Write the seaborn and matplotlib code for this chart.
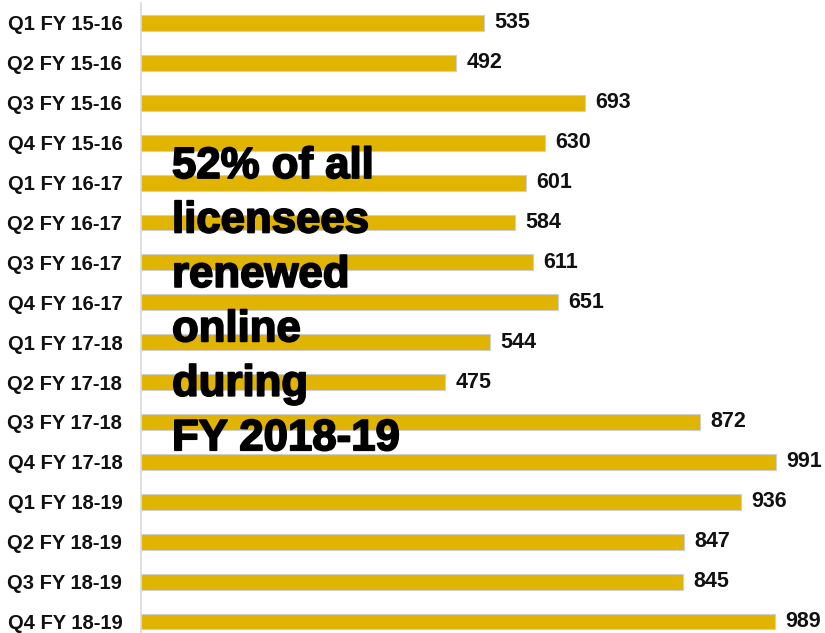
import matplotlib
matplotlib.use("Agg")
import matplotlib.pyplot as plt
import matplotlib.patheffects as pe
from matplotlib import font_manager
import seaborn as sns
import pandas as pd

quarters = ["Q1 FY 15-16", "Q2 FY 15-16", "Q3 FY 15-16", "Q4 FY 15-16",
            "Q1 FY 16-17", "Q2 FY 16-17", "Q3 FY 16-17", "Q4 FY 16-17",
            "Q1 FY 17-18", "Q2 FY 17-18", "Q3 FY 17-18", "Q4 FY 17-18",
            "Q1 FY 18-19", "Q2 FY 18-19", "Q3 FY 18-19", "Q4 FY 18-19"]
renewals = [535, 492, 693, 630, 601, 584, 611, 651,
            544, 475, 872, 991, 936, 847, 845, 989]
callout = "52% of all\nlicensees\nrenewed\nonline\nduring\nFY 2018-19"

sns.set_style("white")
plt.rcParams["font.family"] = ["Liberation Sans", "DejaVu Sans"]

# narrow font for value labels if available
try:
    font_manager.findfont(font_manager.FontProperties(family="Liberation Sans Narrow", weight="bold"),
                          fallback_to_default=False)
    val_family = "Liberation Sans Narrow"
    val_size = 18
except Exception:
    val_family = "Liberation Sans"
    val_size = 15.5

df = pd.DataFrame({"quarter": quarters, "renewals": renewals})

W, H = 825, 633
fig = plt.figure(figsize=(W / 100, H / 100), dpi=100)
ax_left = 141 / W
ax_top_px = 3
ax = fig.add_axes([ax_left, 0, 1 - ax_left, (H - ax_top_px) / H])

sns.barplot(data=df, x="renewals", y="quarter", orient="h", width=0.4,
            color="#E0B400", saturation=1, edgecolor="#cfcfcf", linewidth=0.8, ax=ax)

px_per_unit = (776.7 - 141.5) / 991
ax.set_xlim(0, (W - 141) / px_per_unit)
spacing = 39.9
first = 23
ax.set_ylim((H - first) / spacing, (ax_top_px - first) / spacing)

ax.bar_label(ax.containers[0], padding=7.5, fontsize=val_size, fontweight="bold",
             family=val_family, color="#111111")

ax.set_xlabel("")
ax.set_ylabel("")
ax.set_xticks([])
ax.tick_params(axis="y", length=0, pad=13.5)
for lab in ax.get_yticklabels():
    lab.set_fontsize(14.5)
    lab.set_fontweight("bold")
    lab.set_color("#111111")
for s in ["top", "right", "bottom"]:
    ax.spines[s].set_visible(False)
ax.spines["left"].set_color("#d9d9d9")
ax.spines["left"].set_linewidth(1.2)

fig.text(172 / W, 1 - 146 / H, callout, ha="left", va="top", fontsize=31.5,
         fontweight="bold", color="black", linespacing=1.42,
         path_effects=[pe.withStroke(linewidth=1.3, foreground="black")])

fig.savefig("out.png", dpi=100)
